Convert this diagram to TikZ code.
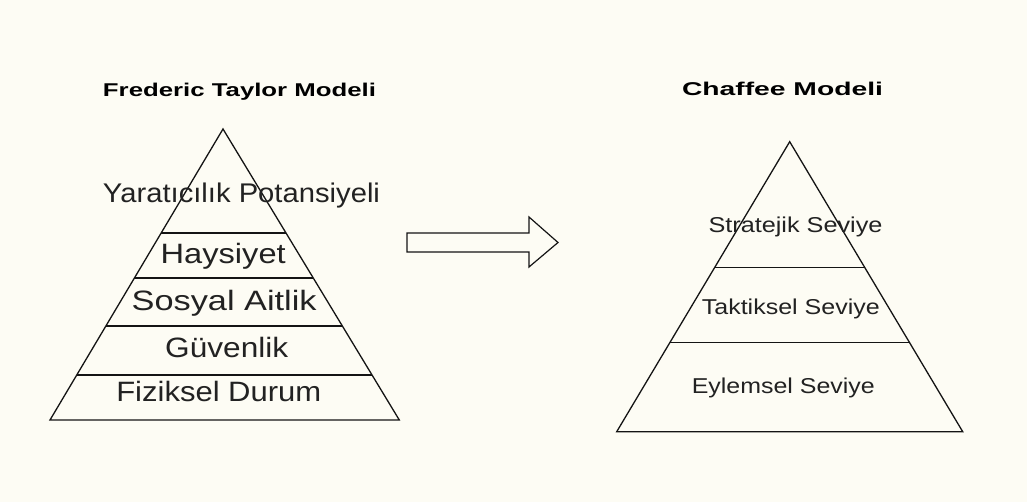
\documentclass[tikz,border=0pt]{standalone}
\usepackage{fontspec}
\setmainfont{Liberation Sans}
\usetikzlibrary{calc}
\definecolor{bg}{RGB}{253,252,244}
\definecolor{ink}{RGB}{20,20,20}
\definecolor{txt}{RGB}{34,34,34}
\newcommand{\fitw}[3]{\resizebox{#1pt}{\height}{\fontsize{#2}{#2}\selectfont #3}}
\begin{document}
\begin{tikzpicture}[x=1pt,y=-1pt,
  edge/.style={draw=ink,line width=1.3pt,line join=miter},
  lab/.style={anchor=base,inner sep=0pt,text=txt},
  ttl/.style={anchor=base,inner sep=0pt,text=black,font=\bfseries}]
\fill[bg] (0,0) rectangle (1027,502);
\useasboundingbox (0,0) rectangle (1027,502);
% left pyramid
\coordinate (LA) at (223,129);
\coordinate (LBL) at (50,420);
\coordinate (LBR) at (399.3,420);
\draw[edge] (LA) -- (LBL) -- (LBR) -- cycle;
\foreach \yy in {233,278,326,375}{
  \draw[edge] ($(LA)!{(\yy-129)/291}!(LBL)$) -- ($(LA)!{(\yy-129)/291}!(LBR)$);
}
\node[ttl] (t1) at (239.5,96.5) {\fitw{273}{18.5}{Frederic Taylor Modeli}};
\node[lab] (l1) at (241.5,203) {\fitw{277}{27}{Yaratıcılık Potansiyeli}};
\node[lab] (l2) at (223.2,264) {\fitw{125}{28}{Haysiyet}};
\node[lab] (l3) at (224.2,311) {\fitw{185}{28}{Sosyal Aitlik}};
\node[lab] (l4) at (226.7,357) {\fitw{123}{28}{Güvenlik}};
\node[lab] (l5) at (218.8,401.7) {\fitw{205}{28}{Fiziksel Durum}};
% arrow
\draw[edge,line width=1.2pt] (407,233) -- (529,233) -- (529,217) -- (558,242.5) -- (529,267) -- (529,252) -- (407,252) -- cycle;
% right pyramid
\coordinate (RA) at (789.7,141.7);
\coordinate (RBL) at (616.7,431.7);
\coordinate (RBR) at (962.7,431.7);
\draw[edge] (RA) -- (RBL) -- (RBR) -- cycle;
\foreach \yy in {267.5,342.5}{
  \draw[edge] ($(RA)!{(\yy-141.7)/290}!(RBL)$) -- ($(RA)!{(\yy-141.7)/290}!(RBR)$);
}
\node[ttl] (t2) at (782.5,96) {\fitw{201}{18.5}{Chaffee Modeli}};
\node[lab] (r1) at (795.5,232.7) {\fitw{174}{21.5}{Stratejik Seviye}};
\node[lab] (r2) at (790.8,315) {\fitw{178}{21.5}{Taktiksel Seviye}};
\node[lab] (r3) at (783.3,393.3) {\fitw{183}{21.5}{Eylemsel Seviye}};
\end{tikzpicture}
\end{document}
